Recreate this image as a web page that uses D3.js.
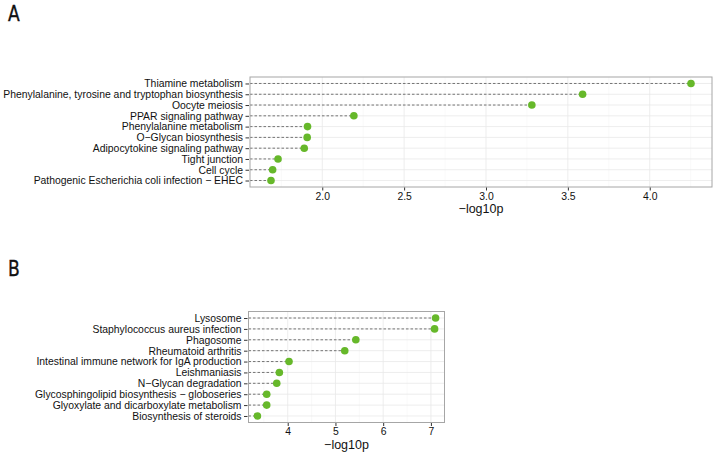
<!DOCTYPE html>
<html><head><meta charset="utf-8">
<script src="https://cdn.jsdelivr.net/npm/d3@7"></script>
<style>body{margin:0;background:#fff}svg{display:block}</style>
</head><body>
<svg id="c" width="717" height="457"></svg>
<script>
const categoriesA = ["Thiamine metabolism","Phenylalanine, tyrosine and tryptophan biosynthesis","Oocyte meiosis","PPAR signaling pathway","Phenylalanine metabolism","O\u2212Glycan biosynthesis","Adipocytokine signaling pathway","Tight junction","Cell cycle","Pathogenic Escherichia coli infection \u2212 EHEC"];
const valuesA = [4.252,3.59,3.28,2.193,1.910,1.908,1.89,1.73,1.697,1.687];
const ticksA = [2.0,2.5,3.0,3.5,4.0];
const minorA = [1.75,2.25,2.75,3.25,3.75,4.25];

const categoriesB = ["Lysosome","Staphylococcus aureus infection","Phagosome","Rheumatoid arthritis","Intestinal immune network for IgA production","Leishmaniasis","N\u2212Glycan degradation","Glycosphingolipid biosynthesis \u2212 globoseries","Glyoxylate and dicarboxylate metabolism","Biosynthesis of steroids"];
const valuesB = [7.098,7.077,5.427,5.195,4.027,3.825,3.77,3.56,3.56,3.365];
const ticksB = [4,5,6,7];
const minorB = [3.5,4.5,5.5,6.5];

const svg = d3.select("#c");
const font = "'Liberation Sans', Arial, sans-serif";

function panel(letter, letterY, cats, vals, ticks, minor, fmt, box){
  const [x0,x1,y0,y1] = box;
  const g = svg.append("g");
  g.append("text").text(letter).attr("x",8).attr("y",letterY)
    .attr("font-family","'DejaVu Sans', sans-serif").attr("font-size",22)
    .attr("fill","#111").attr("stroke","#111").attr("stroke-width",0.4)
    .attr("transform",`translate(${8},0) scale(0.78,1) translate(${-8},0)`);
  const ext = d3.extent(vals); const pad = (ext[1]-ext[0])*0.05;
  const x = d3.scaleLinear().domain([ext[0]-pad, ext[1]+pad]).range([x0,x1]);
  const y = d3.scalePoint().domain(cats).range([y0,y1]).padding(0.6);
  g.append("rect").attr("x",x0).attr("y",y0).attr("width",x1-x0).attr("height",y1-y0).attr("fill","#fff");
  g.selectAll(".mn").data(minor.filter(v=>x(v)>x0&&x(v)<x1)).enter().append("line")
    .attr("x1",d=>x(d)).attr("x2",d=>x(d)).attr("y1",y0).attr("y2",y1)
    .attr("stroke","#f5f5f5").attr("stroke-width",0.6);
  g.selectAll(".mj").data(ticks).enter().append("line")
    .attr("x1",d=>x(d)).attr("x2",d=>x(d)).attr("y1",y0).attr("y2",y1)
    .attr("stroke","#e8e8e8").attr("stroke-width",0.8);
  g.selectAll(".hg").data(cats).enter().append("line")
    .attr("x1",x0).attr("x2",x1).attr("y1",d=>y(d)).attr("y2",d=>y(d))
    .attr("stroke","#e8e8e8").attr("stroke-width",0.8);
  g.selectAll(".sg").data(cats).enter().append("line")
    .attr("x1",x0).attr("x2",(d,i)=>x(vals[i])).attr("y1",d=>y(d)).attr("y2",d=>y(d))
    .attr("stroke","#555").attr("stroke-width",0.8).attr("stroke-dasharray","2.5,2");
  g.selectAll(".pt").data(cats).enter().append("circle")
    .attr("cx",(d,i)=>x(vals[i])).attr("cy",d=>y(d)).attr("r",3.8).attr("fill","#66b82a");
  g.append("rect").attr("x",x0).attr("y",y0).attr("width",x1-x0).attr("height",y1-y0)
    .attr("fill","none").attr("stroke","#a6a6a6").attr("stroke-width",1);
  const ya = d3.axisLeft(y).tickSize(3.5).tickPadding(2.5);
  const gy = g.append("g").attr("transform",`translate(${x0-1},0)`).call(ya);
  gy.select(".domain").remove();
  gy.selectAll("line").attr("stroke","#333");
  gy.selectAll("text").attr("font-family",font).attr("font-size",10.4).attr("fill","#111");
  const xa = d3.axisBottom(x).tickValues(ticks).tickFormat(d3.format(fmt)).tickSize(3).tickPadding(2);
  const gx = g.append("g").attr("transform",`translate(0,${y1+0.5})`).call(xa);
  gx.select(".domain").remove();
  gx.selectAll("line").attr("stroke","#333");
  gx.selectAll("text").attr("font-family",font).attr("font-size",10.4).attr("fill","#111");
  g.append("text").text("\u2212log10p").attr("x",(x0+x1)/2).attr("y",y1+26)
    .attr("text-anchor","middle").attr("font-family",font).attr("font-size",12.5).attr("fill","#111");
}

panel("A", 21, categoriesA, valuesA, ticksA, minorA, ".1f", [250,712,77,187]);
panel("B", 276, categoriesB, valuesB, ticksB, minorB, "d", [248.5,444.5,311.5,422.5]);
</script>
</body></html>
